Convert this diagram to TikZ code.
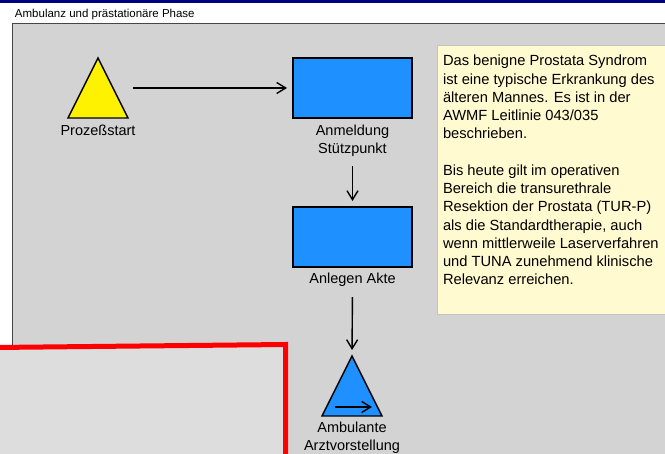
\documentclass[tikz,border=0pt]{standalone}
\usepackage{fontspec}
\setmainfont{Liberation Sans}
\usetikzlibrary{arrows.meta,shapes.geometric}

\definecolor{navyband}{RGB}{0,0,128}
\definecolor{panelgrey}{RGB}{211,211,211}
\definecolor{paneledge}{RGB}{70,70,70}
\definecolor{stepblue}{RGB}{30,144,255}
\definecolor{noteyellow}{RGB}{255,250,208}
\definecolor{noteedge}{RGB}{195,195,195}
\definecolor{calloutgrey}{RGB}{221,221,221}
\definecolor{calloutred}{RGB}{255,0,0}

\begin{document}
\begin{tikzpicture}[x=1pt,y=-1pt,
  every node/.style={inner sep=0pt, outer sep=0pt},
  labelfont/.style={font=\fontsize{14.5}{18}\selectfont},
  stepbox/.style={draw=black, line width=1.4pt, fill=stepblue,
    minimum width=119pt, minimum height=60pt},
  tri/.style={isosceles triangle, isosceles triangle stretches,
    shape border rotate=90, draw=black, line width=1.4pt,
    minimum width=60pt, minimum height=60pt},
  % anchored at the baseline of the last line
  steplabel/.style={labelfont, align=center, anchor=base},
  flow/.style={draw=black, line width=1.4pt,
    -{Straight Barb[length=9pt,width=11pt,line width=1.4pt]}},
]
\useasboundingbox (0,0) rectangle (665,454);

% window title band and background
\fill[white] (0,0) rectangle (665,454);
\fill[navyband] (0,0) rectangle (665,3);
\node[anchor=base west, font=\fontsize{11.5}{14}\selectfont] (title) at (15,17.5) {Ambulanz und prästationäre Phase};

% swimlane panel
\draw[fill=panelgrey, draw=paneledge, line width=1pt] (12,24) rectangle (690,480);

% process start
\node[tri, fill=yellow, anchor=apex] (start) at (98,58) {};
\node[steplabel] (startlbl) at (98,136) {Prozeßstart};

% registration
\node[stepbox, anchor=north west] (reg) at (293,58) {};
\node[steplabel] (reglbl) at (reg.south |- 0,154) {Anmeldung\\Stützpunkt};

% file creation
\node[stepbox, anchor=north west] (file) at (293,207) {};
\node[steplabel] (filelbl) at (file.south |- 0,284) {Anlegen Akte};

% outpatient consultation (sub-process)
\node[tri, fill=stepblue, anchor=apex] (consult) at (352,356) {};
\node[steplabel] (consultlbl) at (consult.apex |- 0,451) {Ambulante\\Arztvorstellung};
\coordinate (subL) at (335,407);
\coordinate (subR) at (372,407);
\draw[flow] (subL) -- (subR);

% connectors
\coordinate (startR) at (133,88);
\draw[flow, shorten >=6pt] (startR) -- (reg.west);
\draw[flow, shorten <=9pt, shorten >=6pt] (reglbl.south) -- (file.north);
\draw[flow, shorten <=10pt, shorten >=6pt] (filelbl.south) -- (consult.apex);

% annotation
\draw[fill=noteyellow, draw=noteedge, line width=1pt] (437,46) rectangle (672,315);
\node[anchor=base west, align=left, font=\fontsize{14.7}{18.25}\selectfont] (note) at (443,285) {%
Das benigne Prostata Syndrom\\
ist eine typische Erkrankung des\\
älteren Mannes. Es ist in der\\
AWMF Leitlinie 043/035\\
beschrieben.\\[18.25pt]
Bis heute gilt im operativen\\
Bereich die transurethrale\\
Resektion der Prostata (TUR-P)\\
als die Standardtherapie, auch\\
wenn mittlerweile Laserverfahren\\
und TUNA zunehmend klinische\\
Relevanz erreichen.};

% highlighted callout
\fill[calloutgrey] (-5,347.5) -- (285.5,344.5) -- (285.5,470) -- (-5,470) -- cycle;
\draw[calloutred, line width=5pt] (-5,347.5) -- (285.5,344.5) -- (285.5,470);
\end{tikzpicture}
\end{document}
